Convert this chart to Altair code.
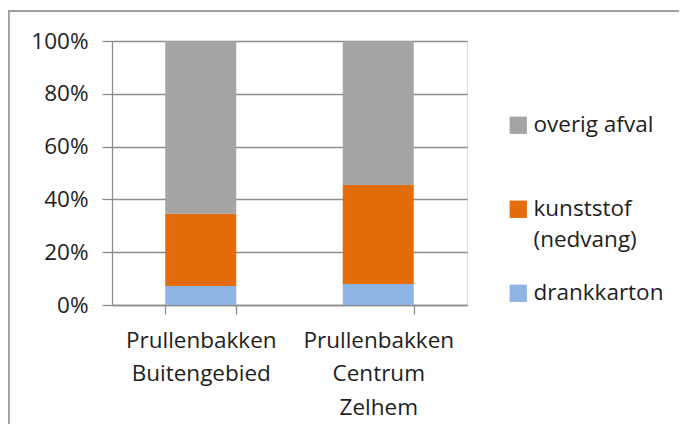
import altair as alt
import pandas as pd

categories = ["Prullenbakken Buitengebied", "Prullenbakken Centrum Zelhem"]
series = ["overig afval", "kunststof (nedvang)", "drankkarton"]
colors = ["#a5a5a5", "#e46c0a", "#8eb4e3"]
drankkarton = [7.2, 8.0]
kunststof = [27.4, 37.5]
overig = [65.4, 54.5]
y_ticks = [0, 0.2, 0.4, 0.6, 0.8, 1.0]

rows = []
for i, c in enumerate(categories):
    rows.append({"cat": c, "serie": "drankkarton", "val": drankkarton[i], "ord": 0})
    rows.append({"cat": c, "serie": "kunststof (nedvang)", "val": kunststof[i], "ord": 1})
    rows.append({"cat": c, "serie": "overig afval", "val": overig[i], "ord": 2})
df = pd.DataFrame(rows)

FONT = "Open Sans"
TXT = "#1e1e1e"
GRID = "#8c8c8c"
FS = 22.5

legend_labels = ("datum.label == 'kunststof (nedvang)' ? ['kunststof', '(nedvang)'] : "
                 "[datum.label, ' ']")

bars = alt.Chart(df).mark_bar().encode(
    x=alt.X("cat:N", sort=categories, title=None,
            scale=alt.Scale(paddingInner=0.6, paddingOuter=0.3),
            axis=alt.Axis(labelAngle=0, labelExpr="split(datum.label, ' ')",
                          tickBand="extent", tickSize=9, tickColor=GRID,
                          domainColor=GRID, domainWidth=1.3, tickWidth=1.3,
                          labelPadding=15, labelFontSize=FS, labelLineHeight=33.5,
                          labelFont=FONT, labelColor=TXT, labelBaseline="top",
                          grid=False)),
    y=alt.Y("val:Q", stack="normalize", title=None,
            scale=alt.Scale(domain=[0, 1]),
            axis=alt.Axis(values=y_ticks, format=".0%", tickSize=10, tickColor=GRID,
                          tickWidth=1.3, domainColor=GRID, domainWidth=1.3,
                          gridColor=GRID, gridWidth=1.3, labelPadding=14,
                          labelFontSize=FS, labelFont=FONT, labelColor=TXT)),
    color=alt.Color("serie:N", title=None,
                    scale=alt.Scale(domain=series, range=colors),
                    legend=alt.Legend(orient="none", legendX=395, legendY=73,
                                      symbolType="square", symbolSize=300,
                                      symbolStrokeWidth=0, labelOffset=4,
                                      labelFontSize=FS, labelFont=FONT, labelColor=TXT,
                                      labelExpr=legend_labels,
                                      labelLimit=300, rowPadding=30, padding=0)),
    order=alt.Order("ord:Q"),
)

frame_top = alt.Chart(df).mark_rule(color="#a0a0a0", strokeWidth=1.5).encode(
    x=alt.value(-104), x2=alt.value(600), y=alt.value(-30))
frame_left = alt.Chart(df).mark_rule(color="#a0a0a0", strokeWidth=1.5).encode(
    x=alt.value(-103.5), y=alt.value(-30), y2=alt.value(400))

chart = alt.layer(frame_top, frame_left, bars).properties(
    width=355, height=264,
    autosize=alt.AutoSizeParams(type="none"),
    padding={"left": 104, "top": 33, "right": 212, "bottom": 119},
).configure_view(stroke=None).configure(
    background="white",
    style={"guide-label": {"lineHeight": 31}},
)

chart.save("out.html", embed_options={"renderer": "svg", "actions": False})
